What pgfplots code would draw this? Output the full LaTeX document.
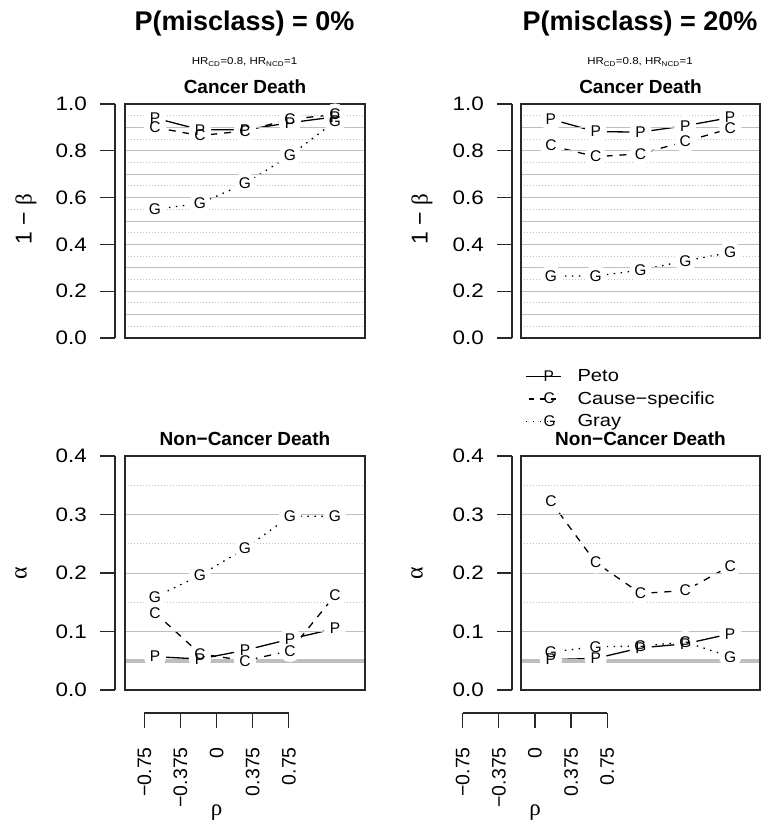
\documentclass[border=0pt]{standalone}
\usepackage{fontspec}
\setmainfont{Liberation Sans}
\newfontfamily\widefont{Liberation Sans}[FakeStretch=1.15]
\newfontfamily\symfont{Liberation Serif}
\usepackage{pgfplots}
\usepackage{pgfplotstable}
\pgfplotsset{compat=1.18}

\definecolor{gridc}{RGB}{190,190,190}
\definecolor{framec}{RGB}{40,40,40}

% rho, Peto, Cause-specific, Gray
\pgfplotstableread{
x      P     C     G
-0.75  0.940 0.900 0.550
-0.375 0.890 0.865 0.575
0      0.890 0.885 0.660
0.375  0.920 0.935 0.780
0.75   0.945 0.955 0.925
}\cdzero
\pgfplotstableread{
x      P     C     G
-0.75  0.935 0.822 0.265
-0.375 0.882 0.775 0.265
0      0.880 0.787 0.290
0.375  0.907 0.840 0.330
0.75   0.942 0.895 0.365
}\cdtwenty
\pgfplotstableread{
x      P     C     G
-0.75  0.057 0.132 0.159
-0.375 0.053 0.062 0.196
0      0.068 0.050 0.242
0.375  0.087 0.067 0.297
0.75   0.105 0.162 0.297
}\ncdzero
\pgfplotstableread{
x      P     C     G
-0.75  0.052 0.322 0.065
-0.375 0.054 0.218 0.074
0      0.072 0.165 0.075
0.375  0.079 0.170 0.082
0.75   0.096 0.212 0.057
}\ncdtwenty

\tikzset{
  pl/.style={black, line width=1.3pt, solid},
  cl/.style={black, line width=1.3pt, dash pattern=on 7pt off 7pt},
  gl/.style={black, line width=1.3pt, dash pattern=on 1.5pt off 5.5pt},
}

\pgfplotsset{
  panel/.style={scale only axis, width=240pt, height=234pt,
    xmin=-1, xmax=1, xtick=\empty, yticklabels={},
    major tick length=0pt, minor tick length=0pt,
    ymajorgrids, yminorgrids,
    major grid style={gridc, line width=0.9pt},
    minor grid style={gridc, line width=0.9pt, dash pattern=on 1pt off 2pt},
    axis on top, axis line style={framec, line width=1.3pt},
    title style={font=\bfseries\fontsize{19}{20}\selectfont, at={(0.5,1)}, anchor=base, yshift=5pt, inner sep=0pt}},
  yax/.style={scale only axis, width=10pt, height=234pt,
    xmin=0, xmax=1,
    axis y line=left, axis x line=none,
    axis line style={-, framec, line width=1.3pt},
    tick align=outside, major tick length=15pt,
    major tick style={framec, line width=1.3pt},
    /pgf/number format/assume math mode=true,
    yticklabel={\pgfmathprintnumber[fixed, fixed zerofill, precision=1]{\tick}},
    yticklabel style={font=\widefont\fontsize{19.5}{20}\selectfont, inner sep=0pt, xshift=-13pt}},
  xax/.style={scale only axis, width=144.5pt, height=5pt,
    xmin=-0.75, xmax=0.75, ymin=0, ymax=1,
    axis x line=bottom, axis y line=none,
    axis line style={-, framec, line width=1.3pt},
    xtick={-0.75,-0.375,0,0.375,0.75},
    xticklabels={−0.75,−0.375,0,0.375,0.75},
    tick align=outside, major tick length=15pt,
    major tick style={framec, line width=1.3pt},
    xticklabel style={yshift=-19pt, rotate=90, anchor=east, inner sep=0pt,
      font=\fontsize{19.5}{20}\selectfont}},
  gap/.style={mark=*, mark size=10.5pt, mark options={solid, draw=white, fill=white}},
  lett/.style={only marks, mark=text, text mark={#1}, text mark as node=true,
    mark options={solid},
    text mark style={font=\fontsize{15.5}{16}\selectfont, inner sep=0pt, anchor=center}},
}

\newcommand{\series}[1]{%
  \addplot[pl, gap, forget plot] table[x=x, y=P] {#1};
  \addplot[cl, gap, forget plot] table[x=x, y=C] {#1};
  \addplot[gl, gap, forget plot] table[x=x, y=G] {#1};
}
\newcommand{\letters}[1]{%
  \addplot[lett=P, forget plot] table[x=x, y=P] {#1};
  \addplot[lett=C, forget plot] table[x=x, y=C] {#1};
  \addplot[lett=G, forget plot] table[x=x, y=G] {#1};
}

\begin{document}
\begin{tikzpicture}
\path[use as bounding box] (0,0) rectangle (762pt,-823pt);

% column titles
\node[font=\bfseries\fontsize{27}{30}\selectfont] at (244.5pt,-24pt) {P(misclass) = 0\%};
\node[font=\widefont\fontsize{10}{12}\selectfont] at (244.5pt,-62pt) {HR\textsubscript{CD}=0.8, HR\textsubscript{NCD}=1};
\node[font=\bfseries\fontsize{27}{30}\selectfont] at (640pt,-24pt) {P(misclass) = 20\%};
\node[font=\widefont\fontsize{10}{12}\selectfont] at (640pt,-62pt) {HR\textsubscript{CD}=0.8, HR\textsubscript{NCD}=1};

% y labels
\node[rotate=90, font=\fontsize{23}{24}\selectfont] at (26pt,-219pt) {1 − {\symfont β}};
\node[rotate=90, font=\fontsize{23}{24}\selectfont] at (422pt,-219pt) {1 − {\symfont β}};
\node[rotate=90, font=\symfont\fontsize{24}{24}\selectfont] at (21pt,-573pt) {α};
\node[rotate=90, font=\symfont\fontsize{24}{24}\selectfont] at (417pt,-573pt) {α};

% ---- top left
\begin{axis}[panel, at={(125pt,-338pt)}, anchor=south west, ymin=0, ymax=1,
  ytick={0.1,0.2,0.3,0.4,0.5,0.6,0.7,0.8,0.9},
  minor ytick={0.05,0.15,0.25,0.35,0.45,0.55,0.65,0.75,0.85,0.95},
  title={Cancer Death}]
\series{\cdzero}
\letters{\cdzero}
\end{axis}
\begin{axis}[yax, at={(115pt,-338pt)}, anchor=south west, ymin=0, ymax=1,
  ytick={0,0.2,0.4,0.6,0.8,1}]
\end{axis}

% ---- top right
\begin{axis}[panel, width=239pt, at={(521pt,-338pt)}, anchor=south west, ymin=0, ymax=1,
  ytick={0.1,0.2,0.3,0.4,0.5,0.6,0.7,0.8,0.9},
  minor ytick={0.05,0.15,0.25,0.35,0.45,0.55,0.65,0.75,0.85,0.95},
  title={Cancer Death},
  legend style={draw=none, fill=none, at={(0.017,-0.127)}, anchor=north west,
    inner sep=0pt, row sep=4.5pt, font=\widefont\fontsize{17.5}{18}\selectfont,
    /tikz/every odd column/.append style={column sep=14pt}},
  legend cell align=left]
\addlegendimage{legend image code/.code={\draw[pl] (0pt,0pt) -- (35pt,0pt);
  \node[font=\fontsize{15.5}{16}\selectfont, inner sep=0pt] at (17.5pt,0pt) {P};}}
\addlegendentry{Peto}
\addlegendimage{legend image code/.code={\draw[cl, dash pattern=on 5pt off 6pt, dash phase=-3pt] (0pt,0pt) -- (35pt,0pt);
  \node[font=\fontsize{15.5}{16}\selectfont, inner sep=0pt] at (17.5pt,0pt) {C};}}
\addlegendentry{Cause−specific}
\addlegendimage{legend image code/.code={\draw[gl] (0pt,0pt) -- (35pt,0pt);
  \node[font=\fontsize{15.5}{16}\selectfont, inner sep=0pt] at (17.5pt,0pt) {G};}}
\addlegendentry{Gray}
\series{\cdtwenty}
\letters{\cdtwenty}
\end{axis}
\begin{axis}[yax, at={(512pt,-338pt)}, anchor=south west, ymin=0, ymax=1,
  ytick={0,0.2,0.4,0.6,0.8,1}]
\end{axis}

% ---- bottom left
\begin{axis}[panel, at={(125pt,-690pt)}, anchor=south west, ymin=0, ymax=0.4,
  ytick={0.1,0.2,0.3}, minor ytick={0.15,0.25,0.35},
  title={Non−Cancer Death}]
\series{\ncdzero}
\addplot[gridc, line width=3.5pt, forget plot] coordinates {(-1,0.05) (1,0.05)};
\letters{\ncdzero}
\end{axis}
\begin{axis}[yax, at={(115pt,-690pt)}, anchor=south west, ymin=0, ymax=0.4,
  ytick={0,0.1,0.2,0.3,0.4}]
\end{axis}

% ---- bottom right
\begin{axis}[panel, width=239pt, at={(521pt,-690pt)}, anchor=south west, ymin=0, ymax=0.4,
  ytick={0.1,0.2,0.3}, minor ytick={0.15,0.25,0.35},
  title={Non−Cancer Death}]
\series{\ncdtwenty}
\addplot[gridc, line width=3.5pt, forget plot] coordinates {(-1,0.05) (1,0.05)};
\letters{\ncdtwenty}
\end{axis}
\begin{axis}[yax, at={(512pt,-690pt)}, anchor=south west, ymin=0, ymax=0.4,
  ytick={0,0.1,0.2,0.3,0.4}]
\end{axis}

% ---- rho axes
\begin{axis}[xax, at={(144.3pt,-713pt)}, anchor=south west]
\end{axis}
\node[font=\symfont\fontsize{23}{23}\selectfont] at (216.5pt,-813pt) {ρ};
\begin{axis}[xax, at={(462.7pt,-713pt)}, anchor=south west]
\end{axis}
\node[font=\symfont\fontsize{23}{23}\selectfont] at (535pt,-813pt) {ρ};
\end{tikzpicture}
\end{document}
